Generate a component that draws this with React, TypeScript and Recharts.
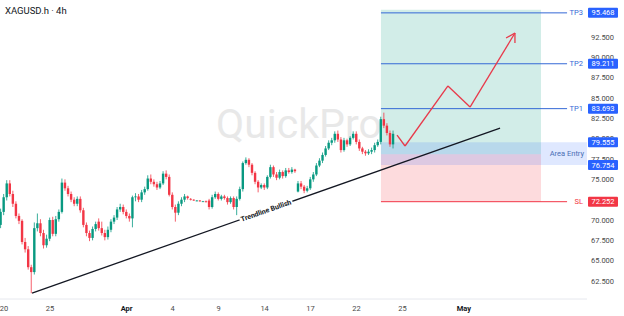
import React from 'react'
import {
  ComposedChart,
  Bar,
  XAxis,
  YAxis,
  ReferenceArea,
  ReferenceLine,
  ReferenceDot
} from 'recharts'

// 4h candles (one every 0.2 trading day)
const opens = [
  69.4, 71.0, 72.8, 74.5, 73.2, 72.0, 70.5, 69.9, 67.3, 66.4, 64.2, 63.6, 69.0, 69.6, 68.4, 66.9, 67.7, 70.0, 68.3, 70.1,
  71.0, 74.6, 73.9, 73.2, 72.5, 72.0, 72.6, 71.2, 69.4, 68.4, 67.8, 68.9, 69.8, 69.0, 68.4, 67.9, 68.8, 69.8, 70.3, 71.3,
  71.6, 71.0, 70.5, 70.2, 72.8, 72.9, 72.5, 73.4, 73.8, 75.1, 74.7, 74.4, 74.0, 74.5, 75.7, 75.3, 73.1, 71.6, 70.9, 72.0,
  72.5, 72.9, 72.6, 72.5, 72.4, 72.4, 72.3, 72.3, 72.4, 71.6, 72.8, 73.2, 72.6, 72.9, 72.7, 72.2, 72.7, 71.6, 72.6, 73.8,
  77.0, 77.4, 76.8, 75.8, 74.7, 74.0, 74.3, 74.0, 75.3, 76.5, 75.6, 75.2, 75.9, 75.4, 76.1, 75.9, 76.2, 73.5, 74.5, 74.1,
  73.6, 73.9, 75.0, 75.6, 76.7, 77.3, 78.0, 78.8, 79.5, 79.8, 80.6, 79.9, 78.6, 79.8, 79.3, 80.1, 80.6, 79.6, 78.8, 78.4,
  78.2, 78.4, 78.6, 79.2, 79.6, 82.4, 81.6, 80.7, 79.3
]
const highs = [
  71.4, 73.2, 74.9, 74.9, 73.6, 72.3, 70.8, 70.1, 67.8, 66.8, 64.5, 69.7, 70.8, 70.1, 68.8, 68.2, 70.3, 70.4, 70.5, 71.3,
  75.1, 75.0, 74.2, 73.5, 72.8, 72.9, 72.9, 71.5, 69.7, 68.7, 69.2, 69.8, 70.2, 69.8, 68.8, 69.2, 70.1, 70.6, 71.6, 72.0,
  71.9, 71.3, 70.8, 73.0, 73.3, 73.2, 73.7, 74.1, 75.5, 75.6, 75.0, 74.7, 74.8, 76.0, 76.1, 75.6, 73.4, 71.9, 72.3, 72.8,
  73.2, 73.0, 72.7, 72.55, 72.45, 72.45, 72.35, 72.4, 72.6, 73.1, 73.5, 73.4, 73.1, 73.1, 72.9, 72.9, 72.9, 72.9, 74.1, 77.2,
  77.7, 77.6, 77.0, 76.0, 74.9, 74.5, 74.5, 75.5, 76.8, 76.7, 75.9, 76.2, 76.1, 76.4, 76.4, 76.5, 76.3, 74.8, 74.8, 74.3,
  74.2, 75.3, 75.9, 77.0, 77.6, 78.3, 79.1, 79.8, 80.1, 80.9, 81.0, 80.2, 80.1, 80.0, 80.3, 80.9, 80.9, 79.9, 79.0, 78.6,
  78.7, 78.9, 79.5, 79.9, 82.7, 83.2, 81.9, 81.0, 81.0
]
const lows = [
  69.0, 70.6, 72.4, 72.9, 71.6, 70.2, 69.5, 67.0, 66.0, 63.9, 61.0, 63.3, 68.6, 68.0, 66.5, 66.6, 67.4, 68.0, 68.0, 69.8,
  70.8, 73.6, 72.9, 72.2, 71.7, 71.7, 70.9, 69.1, 68.0, 67.4, 67.5, 68.6, 68.7, 68.1, 67.5, 67.6, 68.5, 69.5, 70.0, 71.0,
  70.7, 70.2, 69.8, 69.1, 72.3, 72.2, 72.2, 73.1, 73.6, 74.4, 74.1, 73.7, 73.8, 74.3, 75.0, 72.9, 71.3, 69.8, 70.6, 71.7,
  72.2, 72.5, 72.4, 72.35, 72.3, 72.25, 72.25, 72.15, 71.3, 71.4, 72.6, 72.4, 72.4, 72.5, 71.9, 72.0, 71.3, 70.6, 72.4, 73.5,
  76.8, 76.5, 75.5, 74.4, 73.4, 73.8, 73.7, 73.8, 75.1, 75.3, 74.9, 75.0, 75.1, 75.2, 75.7, 75.7, 75.8, 73.4, 73.8, 73.3,
  73.4, 73.7, 74.7, 75.4, 76.5, 77.0, 77.8, 78.6, 79.2, 79.5, 79.6, 78.3, 78.4, 79.0, 79.1, 79.9, 79.3, 78.5, 78.1, 77.9,
  78.0, 78.1, 78.3, 79.0, 79.3, 81.3, 80.4, 79.0, 78.8
]
const closes = [
  71.0, 72.8, 74.5, 73.2, 72.0, 70.5, 69.9, 67.3, 66.4, 64.2, 63.6, 69.0, 69.6, 68.4, 66.9, 67.7, 70.0, 68.3, 70.1, 71.0,
  74.6, 73.9, 73.2, 72.5, 72.0, 72.6, 71.2, 69.4, 68.4, 67.8, 68.9, 69.5, 69.0, 68.4, 67.9, 68.8, 69.8, 70.3, 71.3, 71.6,
  71.0, 70.5, 70.2, 72.8, 72.9, 72.5, 73.4, 73.8, 75.1, 74.7, 74.4, 74.0, 74.5, 75.7, 75.3, 73.1, 71.6, 70.9, 72.0, 72.5,
  72.9, 72.7, 72.5, 72.4, 72.4, 72.3, 72.3, 72.2, 71.6, 72.8, 73.2, 72.6, 72.9, 72.7, 72.2, 72.7, 71.6, 72.6, 73.8, 77.0,
  77.4, 76.8, 75.8, 74.7, 74.0, 74.3, 74.0, 75.3, 76.5, 75.6, 75.2, 75.9, 75.4, 76.1, 75.9, 76.2, 76.0, 74.5, 74.1, 73.6,
  73.9, 75.0, 75.6, 76.7, 77.3, 78.0, 78.8, 79.5, 79.8, 80.6, 79.9, 78.6, 79.8, 79.3, 80.1, 80.6, 79.6, 78.8, 78.4, 78.2,
  78.4, 78.6, 79.2, 79.6, 82.4, 81.6, 80.7, 79.3, 80.6
]

// time axis in trading days, Mar 20 = 0
const FIRST_T = -0.2
const STEP_T = 0.2
const X_MIN = -0.26
const X_MAX = 38.03
const Y_MIN = 60.29
const Y_MAX = 97.05

const dateTicks = [0, 3, 8, 11, 14, 17, 20, 23, 26, 30]
const dateLabels = ['20', '25', 'Apr', '4', '9', '14', '17', '22', '25', 'May']
const monthLabels = ['Apr', 'May']
// 72.500 and 95.000 sit fully under the SL / TP3 tags
const priceTicks = [62.5, 65, 67.5, 70, 75, 77.5, 80, 82.5, 85, 87.5, 90, 92.5]

// trade setup
const targetNames = ['TP3', 'TP2', 'TP1']
const targetPrices = [95.468, 89.211, 83.693]
const stopLoss = 72.252
const entryTop = 79.555
const entryBottom = 76.754
const entryPrice = 78.1
const profitTop = 95.85
const zoneStart = 24.59
const zoneEnd = 35.03
const levelEnd = 36.73

const trendTimes = [1.83, 32.36]
const trendPrices = [61.02, 81.31]
const pathTimes = [25.64, 26.16, 28.96, 30.4, 33.33]
const pathPrices = [80.45, 79.1, 86.48, 83.89, 92.99]
const arrowTimes = [32.75, 33.33]
const arrowPrices = [92.38, 91.76]

const GREEN = '#089981'
const RED = '#f23645'
const BLUE = '#2962ff'
const FONT = 'Roboto, "Noto Sans", sans-serif'

const candles = opens.map((open, i) => ({
  t: FIRST_T + i * STEP_T,
  open,
  high: highs[i],
  low: lows[i],
  close: closes[i]
}))

const Candle = (props: any) => {
  const { x, y, width, height, payload } = props
  if (x == null || y == null || !payload) return null
  const top = Math.min(y, y + height)
  const bottom = Math.max(y, y + height)
  const { open, close, high, low } = payload
  const span = high - low || 1
  const toY = (v: number) => top + ((high - v) / span) * (bottom - top)
  const color = close >= open ? GREEN : RED
  const mid = x + width / 2
  const bTop = toY(Math.max(open, close))
  const bBot = toY(Math.min(open, close))
  return (
    <g>
      <line x1={mid} x2={mid} y1={top} y2={bottom} stroke={color} strokeWidth={0.8} />
      <rect x={x} y={bTop} width={width} height={Math.max(0.8, bBot - bTop)} fill={color} />
    </g>
  )
}

const DateTick = (props: any) => {
  const { x, y, payload } = props
  const label = dateLabels[dateTicks.indexOf(payload.value)]
  const bold = monthLabels.includes(label)
  return (
    <text x={x} y={y} dy="0.71em" textAnchor="middle" fontSize={7.5} fontFamily={FONT}
      fill={bold ? '#131722' : '#4a4a4a'} fontWeight={bold ? 700 : 400}>
      {label}
    </text>
  )
}

const priceTag = (value: number, color: string, tag?: string, tagColor?: string) => (props: any) => {
  const { cx, cy } = props
  return (
    <g>
      {tag && (
        <text x={cx - 4} y={cy} dy="0.35em" textAnchor="end" fontSize={7.5} fontFamily={FONT} fill={tagColor}>
          {tag}
        </text>
      )}
      <rect x={cx + 1} y={cy - 5} width={30} height={10} rx={1} fill={color} />
      <text x={cx + 16} y={cy} dy="0.35em" textAnchor="middle" fontSize={7.5} fontFamily={FONT} fill="#fff">
        {value.toFixed(3)}
      </text>
    </g>
  )
}

const TrendLabel = (props: any) => {
  const { cx, cy } = props
  return (
    <g transform={`rotate(-19.4 ${cx} ${cy})`}>
      <rect x={cx - 28} y={cy - 5} width={56} height={10} fill="#fff" />
      <text x={cx} y={cy} dy="0.35em" textAnchor="middle" fontSize={7} fontWeight={700} fontFamily={FONT} fill="#131722">
        Trendline Bullish
      </text>
    </g>
  )
}

const EntryLabel = (props: any) => {
  const { cx, cy } = props
  return (
    <text x={cx - 3} y={cy} dy="0.35em" textAnchor="end" fontSize={7.5} fontFamily={FONT} fill="#4a6fb5">
      Area Entry
    </text>
  )
}

const TOP_Z = 3000

export default function App() {
  return (
    <div style={{ position: 'fixed', left: 0, top: 0, width: 624, height: 316, background: '#fff' }}>
      <div style={{ position: 'absolute', left: 216, top: 100, fontFamily: FONT, fontSize: 41, color: '#e8e8e8' }}>
        QuickPro
      </div>
      <ComposedChart width={624} height={316} data={candles} margin={{ top: 0, right: 0, bottom: 0, left: 0 }}>
        <XAxis
          dataKey="t"
          type="number"
          domain={[X_MIN, X_MAX]}
          allowDataOverflow
          ticks={dateTicks}
          interval={0}
          height={17}
          tickSize={0}
          tickMargin={7}
          axisLine={{ stroke: '#e6e8ee' }}
          tick={<DateTick />}
        />
        <YAxis
          orientation="right"
          type="number"
          domain={[Y_MIN, Y_MAX]}
          allowDataOverflow
          ticks={priceTicks}
          interval={0}
          width={37}
          tickSize={0}
          tickMargin={4}
          axisLine={false}
          tick={{ fontSize: 7.5, fill: '#4a4a4a', fontFamily: FONT }}
          tickFormatter={(v: number) => v.toFixed(3)}
        />
        <ReferenceArea x1={zoneStart} x2={zoneEnd} y1={entryPrice} y2={profitTop} fill={GREEN} fillOpacity={0.18} stroke="none" />
        <ReferenceArea x1={zoneStart} x2={zoneEnd} y1={stopLoss} y2={entryPrice} fill={RED} fillOpacity={0.18} stroke="none" />
        <ReferenceArea x1={zoneStart} x2={X_MAX} y1={entryBottom} y2={entryTop} fill={BLUE} fillOpacity={0.15} stroke="none" />
        {targetPrices.map((p) => (
          <ReferenceLine key={p} segment={[{ x: zoneStart, y: p }, { x: levelEnd, y: p }]} stroke="#3468d6" strokeWidth={1} />
        ))}
        <ReferenceLine segment={[{ x: zoneStart, y: stopLoss }, { x: levelEnd, y: stopLoss }]} stroke={RED} strokeWidth={1} />
        <ReferenceLine
          segment={[{ x: trendTimes[0], y: trendPrices[0] }, { x: trendTimes[1], y: trendPrices[1] }]}
          stroke="#131722"
          strokeWidth={1.3}
        />
        {pathTimes.slice(1).map((t, i) => (
          <ReferenceLine
            key={t}
            segment={[{ x: pathTimes[i], y: pathPrices[i] }, { x: t, y: pathPrices[i + 1] }]}
            stroke="#e8394a"
            strokeWidth={1.3}
          />
        ))}
        {arrowTimes.map((t, i) => (
          <ReferenceLine
            key={'a' + i}
            segment={[{ x: pathTimes[4], y: pathPrices[4] }, { x: t, y: arrowPrices[i] }]}
            stroke="#e8394a"
            strokeWidth={1.3}
          />
        ))}
        <Bar dataKey={(d: any) => [d.low, d.high]} barSize={2.4} shape={<Candle />} isAnimationActive={false} />
        <ReferenceDot x={17.09} y={71.16} r={0} shape={TrendLabel} zIndex={TOP_Z} />
        <ReferenceDot x={X_MAX} y={(entryTop + entryBottom) / 2} r={0} shape={EntryLabel} zIndex={TOP_Z} />
        {targetPrices.map((p, i) => (
          <ReferenceDot key={p} x={X_MAX} y={p} r={0} shape={priceTag(p, BLUE, targetNames[i], '#3468d6')} zIndex={TOP_Z} />
        ))}
        <ReferenceDot x={X_MAX} y={entryTop} r={0} shape={priceTag(entryTop, BLUE)} zIndex={TOP_Z} />
        <ReferenceDot x={X_MAX} y={entryBottom} r={0} shape={priceTag(entryBottom, BLUE)} zIndex={TOP_Z} />
        <ReferenceDot x={X_MAX} y={stopLoss} r={0} shape={priceTag(stopLoss, RED, 'SL', RED)} zIndex={TOP_Z} />
      </ComposedChart>
      <div style={{ position: 'absolute', left: 5, top: 5, fontFamily: FONT, fontSize: 9.5, color: '#131722' }}>
        XAGUSD.h · 4h
      </div>
    </div>
  )
}
